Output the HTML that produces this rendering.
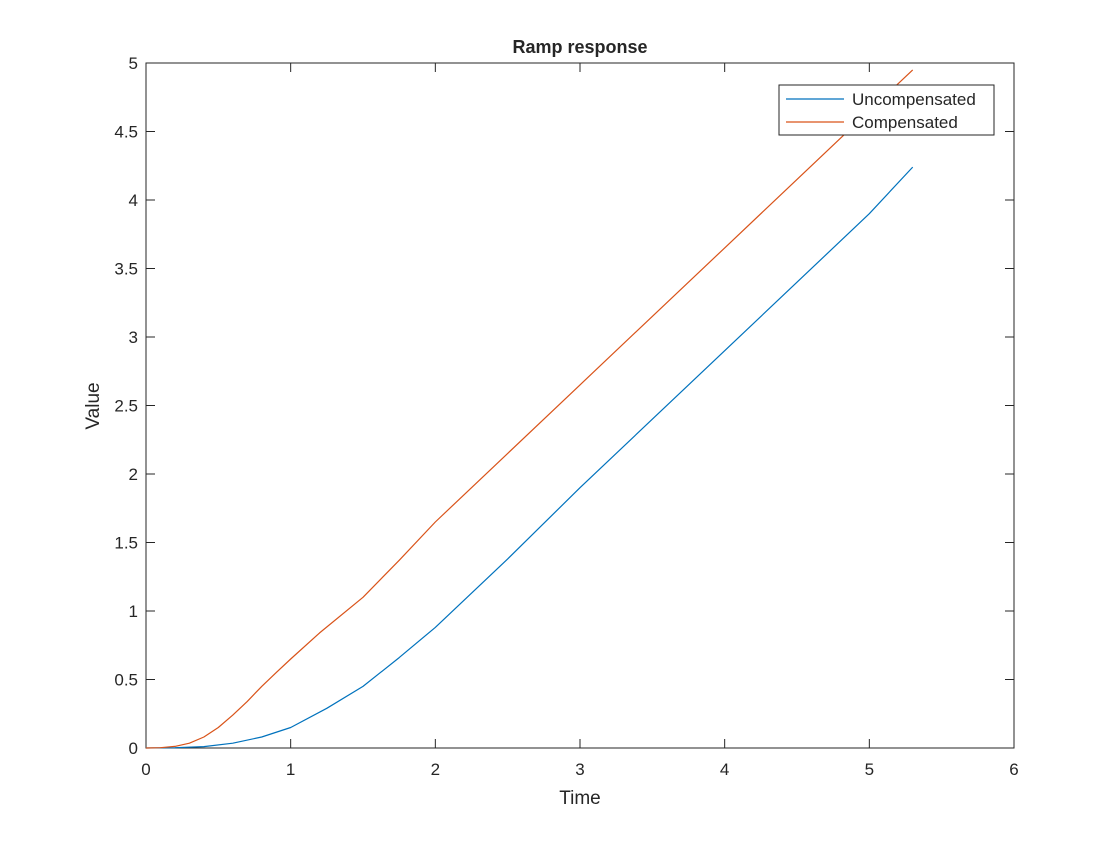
<!DOCTYPE html>
<html><head><meta charset="utf-8"><style>
html,body{margin:0;padding:0;background:#fff;}
svg text{font-family:"Liberation Sans",Arial,sans-serif;fill:#262626;}
</style></head><body>
<svg id="chart" width="1120" height="840" xmlns="http://www.w3.org/2000/svg">
<rect width="1120" height="840" fill="#fff"/>
<g id="axes"></g>
<g id="series"></g>
<g id="legend"></g>
</svg>
<script>
const xTicks=[0,1,2,3,4,5,6];
const yTicks=[0,0.5,1,1.5,2,2.5,3,3.5,4,4.5,5];
const yTickLabels=["0","0.5","1","1.5","2","2.5","3","3.5","4","4.5","5"];
const timeUncomp=[0,0.2,0.4,0.6,0.8,1,1.25,1.5,1.75,2,2.5,3,3.5,4,4.5,5,5.3];
const valueUncomp=[0,0.002,0.01,0.035,0.08,0.15,0.29,0.45,0.66,0.88,1.38,1.9,2.4,2.9,3.4,3.9,4.24];
const timeComp=[0,0.1,0.2,0.3,0.4,0.5,0.6,0.7,0.8,0.9,1,1.2,1.5,1.75,2,2.5,3,3.5,4,4.5,5,5.3];
const valueComp=[0,0.002,0.012,0.035,0.08,0.15,0.24,0.34,0.45,0.55,0.65,0.84,1.1,1.37,1.65,2.15,2.65,3.15,3.65,4.15,4.65,4.95];
const L=146,R=1014,T=63,B=748;
const xs=v=>L+(v-0)/(6-0)*(R-L);
const ys=v=>B-(v-0)/(5-0)*(B-T);
const NS="http://www.w3.org/2000/svg";
function mk(tag,attrs,parent,text){const e=document.createElementNS(NS,tag);for(const k in attrs)e.setAttribute(k,attrs[k]);if(text!==undefined)e.textContent=text;parent.appendChild(e);return e;}
const ax=document.getElementById('axes');
const box=mk('rect',{x:L,y:T,width:R-L,height:B-T,fill:'none',stroke:'#262626','stroke-width':1},ax);


xTicks.forEach(v=>{
  const x=xs(v);
  mk('line',{x1:x,y1:B,x2:x,y2:B-9,stroke:'#262626'},ax);
  mk('line',{x1:x,y1:T,x2:x,y2:T+9,stroke:'#262626'},ax);
  const t=mk('text',{x:x,y:B+27,'text-anchor':'middle','font-size':17},ax,String(v));
  
  
});
yTicks.forEach((v,i)=>{
  const y=ys(v);
  mk('line',{x1:L,y1:y,x2:L+9,y2:y,stroke:'#262626'},ax);
  mk('line',{x1:R,y1:y,x2:R-9,y2:y,stroke:'#262626'},ax);
  const t=mk('text',{x:L-8,y:y+6,'text-anchor':'end','font-size':17},ax,yTickLabels[i]);
  
  
});
const title=mk('text',{x:(L+R)/2,y:53,'text-anchor':'middle','font-size':18,'font-weight':'bold'},ax,'Ramp response');


const xl=mk('text',{x:(L+R)/2,y:804,'text-anchor':'middle','font-size':19},ax,'Time');


const yl=mk('text',{x:0,y:0,'text-anchor':'middle','font-size':19,transform:'translate(99,406) rotate(-90)'},ax,'Value');


const sg=document.getElementById('series');
function line(ts,vs,color,name){
  const d=ts.map((t,i)=>(i?'L':'M')+xs(t).toFixed(1)+','+ys(vs[i]).toFixed(1)).join(' ');
  const p=mk('path',{d:d,fill:'none',stroke:color,'stroke-width':1.2,'stroke-linejoin':'round'},sg);
  
  
}
line(timeUncomp,valueUncomp,'#0072BD','uncompensated-line');
line(timeComp,valueComp,'#D95319','compensated-line');
const lg=document.getElementById('legend');
const lb=mk('rect',{x:779,y:85,width:215,height:50,fill:'#fff',stroke:'#262626'},lg);


mk('line',{x1:786,y1:99,x2:844,y2:99,stroke:'#0072BD','stroke-width':1.2},lg);
const l1=mk('text',{x:852,y:105,'font-size':17},lg,'Uncompensated');


mk('line',{x1:786,y1:122,x2:844,y2:122,stroke:'#D95319','stroke-width':1.2},lg);
const l2=mk('text',{x:852,y:128,'font-size':17},lg,'Compensated');


</script>
</body></html>
